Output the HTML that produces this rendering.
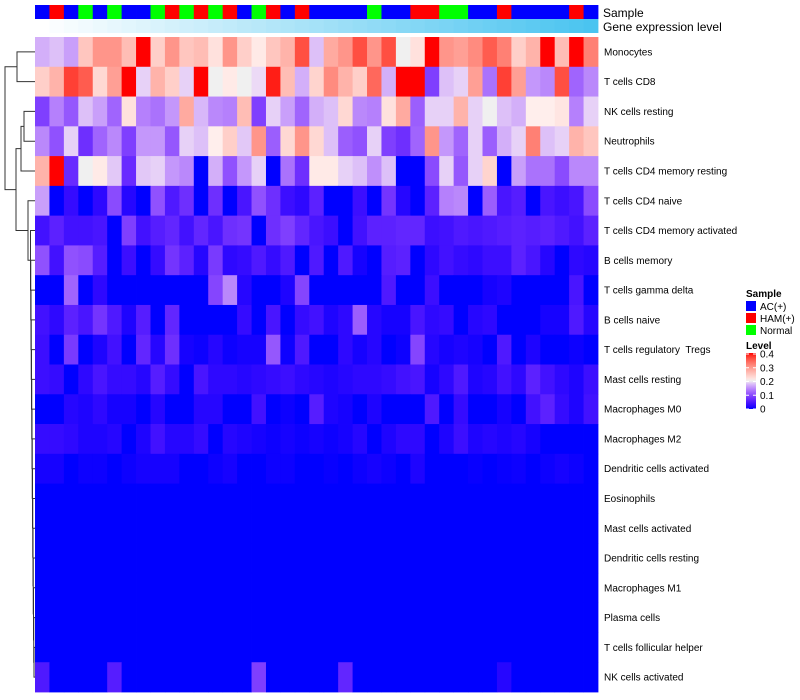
<!DOCTYPE html>
<html><head><meta charset="utf-8"><style>
body{margin:0;background:#fff;}
svg{display:block;font-family:"Liberation Sans",sans-serif;}
text{white-space:pre;}
</style></head><body>
<svg id="c" width="800" height="700" viewBox="0 0 800 700"></svg>
<script>
const rowLabels=["Monocytes","T cells CD8","NK cells resting","Neutrophils","T cells CD4 memory resting","T cells CD4 naive","T cells CD4 memory activated","B cells memory","T cells gamma delta","B cells naive","T cells regulatory  Tregs","Mast cells resting","Macrophages M0","Macrophages M2","Dendritic cells activated","Eosinophils","Mast cells activated","Dendritic cells resting","Macrophages M1","Plasma cells","T cells follicular helper","NK cells activated"];
const sampleGroups="BRBGBGBBGRGRGRBGRBRBBBBGBBRRGGBBRBBBBRB".split("");
const groupNames={B:"AC(+)",R:"HAM(+)",G:"Normal"};
const groupColors={B:"#0000ff",R:"#ff0000",G:"#00ff00"};
const row0=[.17,.18,.16,.25,.3,.3,.26,.4,.24,.3,.25,.26,.22,.3,.24,.21,.25,.27,.36,.18,.28,.3,.36,.3,.36,.2,.22,.4,.3,.29,.31,.35,.32,.24,.27,.4,.26,.4,.32];
const row1=[.24,.27,.37,.35,.23,.29,.4,.19,.27,.24,.19,.4,.2,.21,.2,.195,.39,.26,.17,.235,.31,.27,.24,.34,.17,.4,.4,.09,.18,.19,.29,.13,.37,.29,.155,.145,.36,.12,.145];
const row2=[.09,.14,.11,.18,.16,.12,.22,.14,.13,.155,.28,.175,.145,.14,.26,.09,.19,.16,.12,.17,.18,.23,.145,.14,.22,.28,.115,.19,.19,.27,.19,.2,.18,.17,.205,.205,.215,.14,.19];
const row3=[.145,.105,.19,.075,.12,.145,.09,.155,.155,.11,.19,.18,.205,.24,.185,.3,.115,.23,.3,.23,.18,.115,.105,.19,.09,.075,.12,.3,.155,.12,.19,.115,.17,.19,.32,.18,.19,.27,.25];
const row4=[.27,.4,.07,.2,.21,.185,.07,.185,.19,.155,.145,0,.17,.105,.155,.19,0,.13,.075,.21,.21,.19,.18,.15,.18,0,0,.1,.19,.11,.19,.235,0,.16,.13,.13,.1,.145,.145];
const row5=[.16,0,.03,0,.025,.1,.02,0,.105,.05,.075,0,.075,0,.045,.105,.075,.035,.025,.06,0,0,.035,0,.08,.02,0,.06,.14,.145,0,.115,.045,.055,0,.045,.035,.045,.1];
const row6=[.04,.06,.04,.04,.045,0,.09,.04,.055,.065,.04,.065,.045,.075,.08,0,.075,.09,.065,.045,.035,0,.04,.06,.06,.065,.065,.035,.04,.05,.045,.05,.055,.06,.055,.06,.05,.04,.06];
const row7=[.105,.04,.105,.1,.055,0,.035,0,.03,.08,.06,.02,.085,.025,.03,.05,.03,.05,0,.05,0,.05,.01,0,.055,.06,0,.025,.04,.03,.025,.035,.035,.06,.045,.02,0,.025,.02];
const row8=[0,0,.12,0,.025,0,0,0,0,0,0,0,.095,.145,.02,0,0,.015,.095,0,0,0,0,0,.05,0,0,.035,0,0,0,.01,.015,0,0,0,0,.045,0];
const row9=[.04,.025,.06,.045,.08,.05,.015,.055,0,.065,0,0,0,0,.03,0,.045,0,.03,.04,.015,.025,.115,.02,.01,.01,.045,.025,.03,0,.02,.025,0,0,0,.01,.01,.05,.02];
const row10=[.035,0,.085,0,.015,.04,0,.065,.02,.075,.01,.005,.02,.005,.01,.01,.11,.005,.05,0,0,.025,.01,.02,0,.005,.095,.02,.01,.015,.01,0,.05,0,.015,0,0,.005,0];
const row11=[.035,.03,0,.025,.045,.03,.03,.02,.055,.03,0,.045,.025,.025,.02,.025,.03,.035,.025,.02,.015,.02,.025,.025,.03,.04,.045,.01,.025,.05,.015,.02,.04,.025,.06,.04,.025,.015,.035];
const row12=[0,0,.02,.015,.025,.01,.01,0,.02,0,0,.02,.02,0,0,.04,0,.005,0,.055,.015,.01,0,.015,0,0,0,.05,0,.03,0,0,.01,0,.04,.06,.03,.015,.04];
const row13=[.03,.03,.025,.015,.015,.02,0,.015,.04,.02,.02,.03,0,.02,.015,.01,.005,.01,.005,.01,.005,.01,.02,0,.015,.025,.025,0,.015,.035,.015,.02,.015,.02,.01,0,0,0,0];
const row14=[.01,.01,0,.005,.005,0,.005,.01,.01,.01,0,0,.005,.01,0,0,.005,.005,0,0,.003,0,.005,.01,.005,0,.015,0,0,0,.003,0,.003,.005,0,.005,.01,.005,0];
const zeroRow=new Array(39).fill(0);
const row21=[.05,0,0,0,0,.055,0,0,0,0,0,0,0,0,0,.09,0,0,0,0,0,.065,0,0,0,0,0,0,0,0,0,0,.02,0,0,0,0,0,0];
const values=[row0,row1,row2,row3,row4,row5,row6,row7,row8,row9,row10,row11,row12,row13,row14,zeroRow,zeroRow,zeroRow,zeroRow,zeroRow,zeroRow,row21];
const levelTicks=[0,0.1,0.2,0.3,0.4];

const NS="http://www.w3.org/2000/svg";
const svg=document.getElementById("c");
function mk(tag,attrs,parent){const e=document.createElementNS(NS,tag);for(const k in attrs)e.setAttribute(k,attrs[k]);(parent||svg).appendChild(e);return e;}
function color(v){
  const t0=Math.max(0,Math.min(0.4,v));
  if(t0<0.2){const t=(t0/0.2)*0.93;return `rgb(${Math.round(255*Math.pow(t,0.8))},${Math.round(255*Math.pow(t,1.6))},${Math.round(255-12*Math.pow(t,3))})`;}
  if(t0===0.2)return "rgb(240,240,240)";
  const t=0.07+0.93*(t0-0.2)/0.2;return `rgb(255,${Math.round(255*Math.pow(1-t,0.7))},${Math.round(255*Math.pow(1-t,0.8))})`;
}
const X0=35,X1=598,Y0=37,Y1=692;
const nC=sampleGroups.length,nR=rowLabels.length;
const cw=(X1-X0)/nC,rh=(Y1-Y0)/nR;
const xPos=i=>X0+i*cw, yPos=j=>Y0+j*rh, yMid=j=>Y0+(j+0.5)*rh;

const gAnn=mk("g",{});


sampleGroups.forEach((g,i)=>{
  const r=mk("rect",{x:xPos(i),y:5,width:cw+0.4,height:14,fill:groupColors[g]},gAnn);
  
  
  const c=mk("rect",{x:xPos(i),y:19,width:cw+0.4,height:14},gAnn);
  const t=i/(nC-1);
  c.setAttribute("fill",`rgb(${Math.round(255-181*t)},${Math.round(255-59*t)},${Math.round(255-15*t)})`);
  
  
});
const t1=mk("text",{x:603,y:17,"font-size":12,fill:"#000"});t1.textContent="Sample";


const t2=mk("text",{x:603,y:31,"font-size":12,fill:"#000"});t2.textContent="Gene expression level";



const gH=mk("g",{});


values.forEach((row,j)=>{
  row.forEach((v,i)=>{
    const r=mk("rect",{x:xPos(i),y:yPos(j),width:cw+0.4,height:rh+0.4,fill:color(v)},gH);
    
    
  });
  const lab=mk("text",{x:604,y:yMid(j)+3.5,"font-size":10,fill:"#000"});
  lab.textContent=rowLabels[j];
  
  
});

const gD=mk("g",{stroke:"#333","stroke-width":1,fill:"none"});


function link(x,ya,xa,yb,xb){mk("path",{d:`M${xa},${ya}H${x}V${yb}H${xb}`},gD);}
const L=35;
let prevY=yMid(21),prevX=L;
for(let j=20;j>=6;j--){const x=34-(20-j)*0.25;link(x,yMid(j),L,prevY,prevX);prevY=(yMid(j)+prevY)/2;prevX=x;}
const Fy=prevY,Fx=prevX;
link(28,yMid(5),L,Fy,Fx);const Ey=(yMid(5)+Fy)/2;
link(24,yMid(2),L,yMid(3),L);const By=(yMid(2)+yMid(3))/2;
link(21,By,24,yMid(4),L);const Cy=(By+yMid(4))/2;
link(16,Cy,21,Ey,28);const Dy=(Cy+Ey)/2;
link(17,yMid(0),L,yMid(1),L);const Ay=(yMid(0)+yMid(1))/2;
link(5,Ay,17,Dy,16);

const gL=mk("g",{});


const lt=mk("text",{x:746,y:297,"font-size":10,"font-weight":"bold"},gL);lt.textContent="Sample";


["B","R","G"].forEach((g,k)=>{
  const r=mk("rect",{x:746,y:301+k*12,width:10,height:10,fill:groupColors[g]},gL);
  
  
  const t=mk("text",{x:760,y:310+k*12,"font-size":10},gL);t.textContent=groupNames[g];
  
  
});
const lv=mk("text",{x:746,y:349,"font-size":10,"font-weight":"bold"},gL);lv.textContent="Level";


const defs=mk("defs",{});
const grad=mk("linearGradient",{id:"lg",x1:0,y1:1,x2:0,y2:0},defs);
for(let k=0;k<=20;k++){const v=0.4*k/20;mk("stop",{offset:(k/20),"stop-color":color(v)},grad);}
const cb=mk("rect",{x:746,y:353,width:10,height:56,fill:"url(#lg)"},gL);


levelTicks.forEach(v=>{
  const y=409-(v/0.4)*55;
  mk("line",{x1:746,x2:749,y1:y,y2:y,stroke:"#fff","stroke-width":1},gL);
  mk("line",{x1:753,x2:756,y1:y,y2:y,stroke:"#fff","stroke-width":1},gL);
  const t=mk("text",{x:760,y:y+3.5,"font-size":10},gL);t.textContent=String(v);
  
  
});
</script>
</body></html>
